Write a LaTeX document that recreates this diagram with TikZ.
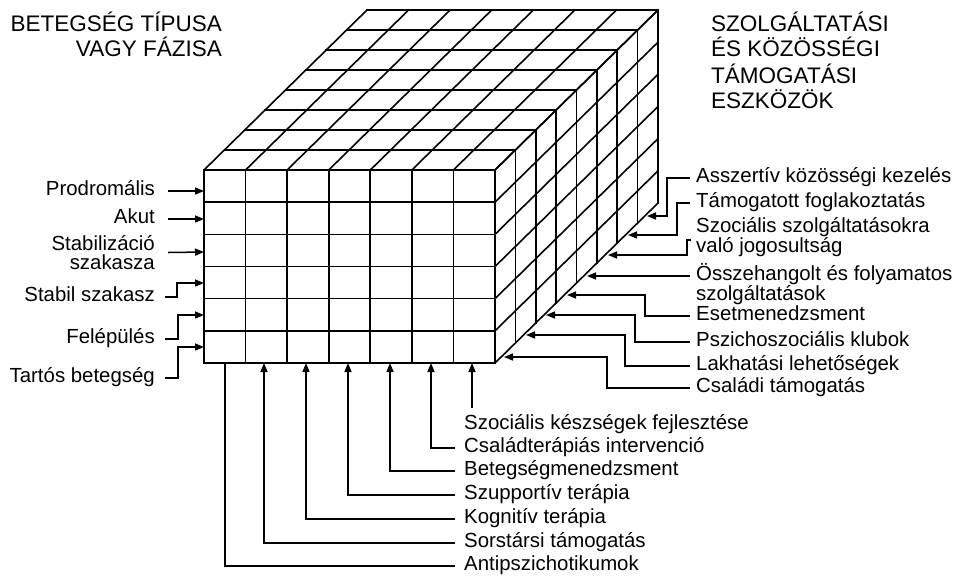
\documentclass[tikz,border=0pt]{standalone}
\usepackage{fontspec}
\setmainfont{Liberation Sans}
\usetikzlibrary{arrows.meta,calc}
\begin{document}
\begin{tikzpicture}[x=1pt,y=-1pt,
  cube/.style={line width=1.6pt, line cap=rect},
  conn/.style={line width=1.5pt},
  arr/.style={conn, -{Triangle[length=9pt,width=7pt]}},
  lab/.style={font=\fontsize{20.4}{22}\selectfont, inner sep=0pt, text height=13pt, text depth=4pt},
  labtwo/.style={font=\fontsize{20.4}{18.7}\selectfont, inner sep=0pt},
  ttl/.style={font=\fontsize{22.5}{25}\selectfont, inner sep=0pt}]
\useasboundingbox[fill=white] (0,0) rectangle (960,579);

% ---------- cube ----------
\foreach \i in {0,...,7} \draw[cube] ({204+41.5714*\i},170) -- ({204+41.5714*\i},363);
\foreach \j in {0,...,6} \draw[cube] (204,{170+32.1667*\j}) -- (495,{170+32.1667*\j});
\foreach \k in {1,...,8} \draw[cube] ({204+20.375*\k},{170-20*\k}) -- ({495+20.375*\k},{170-20*\k});
\foreach \i in {0,...,7} \draw[cube] ({204+41.5714*\i},170) -- ({367+41.5714*\i},10);
\foreach \k in {1,...,8} \draw[cube] ({495+20.375*\k},{170-20*\k}) -- ({495+20.375*\k},{363-20*\k});
\foreach \j in {0,...,6} \draw[cube] (495,{170+32.1667*\j}) -- (658,{10+32.1667*\j});

% ---------- titles ----------
\node[ttl, anchor=base east] (tl1) at (222,31) {BETEGSÉG TÍPUSA};
\node[ttl, anchor=base east] (tl2) at (222,56) {VAGY FÁZISA};
\node[ttl, anchor=base west] (tr1) at (711,31) {SZOLGÁLTATÁSI};
\node[ttl, anchor=base west] (tr2) at (711,56) {ÉS KÖZÖSSÉGI};
\node[ttl, anchor=base west] (tr3) at (711,83) {TÁMOGATÁSI};
\node[ttl, anchor=base west] (tr4) at (711,108) {ESZKÖZÖK};

% ---------- left side ----------
\coordinate (l1) at (204,191);
\coordinate (l2) at (204,219);
\coordinate (l3) at (204,252);
\coordinate (l4) at (204,283);
\coordinate (l5) at (204,315);
\coordinate (l6) at (204,347);
\node[lab, anchor=east] (prod) at (155,191) {Prodromális};
\node[lab, anchor=east] (akut) at (155,219) {Akut};
\node[labtwo, anchor=east, align=right] (stab) at (155,252.5) {Stabilizáció\\szakasza};
\node[lab, anchor=east] (stabil) at (155,297) {Stabil szakasz};
\node[lab, anchor=east] (fel) at (155,339) {Felépülés};
\node[lab, anchor=east] (tart) at (155,378) {Tartós betegség};
\draw[arr] ($(prod.east)+(13,0)$) -- (l1);
\draw[arr] ($(akut.east)+(13,0)$) -- (l2);
\draw[arr] ($(stab.east)+(13,0)$) -- (l3);
\draw[arr] ($(stabil.east)+(10,0)$) -| ($(l4)+(-27,0)$) -- (l4);
\draw[arr] ($(fel.east)+(10,0)$) -| ($(l5)+(-26,0)$) -- (l5);
\draw[arr] ($(tart.east)+(10,0)$) -| ($(l6)+(-26,0)$) -- (l6);

% ---------- bottom ----------
\coordinate (b1) at (225,363);
\coordinate (b2) at (264,363);
\coordinate (b3) at (306,363);
\coordinate (b4) at (348,363);
\coordinate (b5) at (390,363);
\coordinate (b6) at (431,363);
\coordinate (b7) at (472,363);
\coordinate (s7) at (472,408);
\node[lab, anchor=west] (szk) at (464,425) {Szociális készségek fejlesztése};
\node[lab, anchor=west] (csal) at (464,448) {Családterápiás intervenció};
\node[lab, anchor=west] (beteg) at (464,471) {Betegségmenedzsment};
\node[lab, anchor=west] (szup) at (464,495) {Szupportív terápia};
\node[lab, anchor=west] (kogn) at (464,519) {Kognitív terápia};
\node[lab, anchor=west] (sors) at (464,543) {Sorstársi támogatás};
\node[lab, anchor=west] (anti) at (464,566) {Antipszichotikumok};
\draw[arr] (s7) -- (b7);
\draw[arr] ($(csal.west)+(-9,0)$) -| (b6);
\draw[arr] ($(beteg.west)+(-9,0)$) -| (b5);
\draw[arr] ($(szup.west)+(-9,0)$) -| (b4);
\draw[arr] ($(kogn.west)+(-9,0)$) -| (b3);
\draw[arr] ($(sors.west)+(-9,0)$) -| (b2);
\draw[conn] ($(anti.west)+(-9,0)$) -| (b1);

% ---------- right side ----------
\coordinate (t1) at (504,357);
\coordinate (t2) at (526,335);
\coordinate (t3) at (546,315);
\coordinate (t4) at (567,295);
\coordinate (t5) at (587,276);
\coordinate (t6) at (608,255);
\coordinate (t7) at (628,235);
\coordinate (t8) at (647,216);
\node[lab, anchor=west] (asz) at (696,178) {Asszertív közösségi kezelés};
\node[lab, anchor=west] (tam) at (696,203) {Támogatott foglakoztatás};
\node[labtwo, anchor=west, align=left] (szo) at (696,237) {Szociális szolgáltatásokra\\való jogosultság};
\node[labtwo, anchor=west, align=left] (ossz) at (696,284) {Összehangolt és folyamatos\\szolgáltatások};
\node[lab, anchor=west] (eset) at (696,316) {Esetmenedzsment};
\node[lab, anchor=west] (psz) at (696,342) {Pszichoszociális klubok};
\node[lab, anchor=west] (lak) at (696,366) {Lakhatási lehetőségek};
\node[lab, anchor=west] (csa) at (696,388) {Családi támogatás};
\draw[arr] ($(asz.west)+(-6,0)$) -| ($(t8)+(20,0)$) -- (t8);
\draw[arr] ($(tam.west)+(-6,0)$) -| ($(t7)+(49,0)$) -- (t7);
\draw[arr] ($(szo.west)+(-5,3)$) -| ($(t6)+(79,0)$) -- (t6);
\draw[arr] ($(ossz.west)+(-6,-8)$) -- (t5);
\draw[arr] ($(eset.west)+(-6,0)$) -| ($(t4)+(78,0)$) -- (t4);
\draw[arr] ($(psz.west)+(-6,0)$) -| ($(t3)+(89,0)$) -- (t3);
\draw[arr] ($(lak.west)+(-6,0)$) -| ($(t2)+(99,0)$) -- (t2);
\draw[arr] ($(csa.west)+(-6,0)$) -| ($(t1)+(103,0)$) -- (t1);
\end{tikzpicture}
\end{document}
